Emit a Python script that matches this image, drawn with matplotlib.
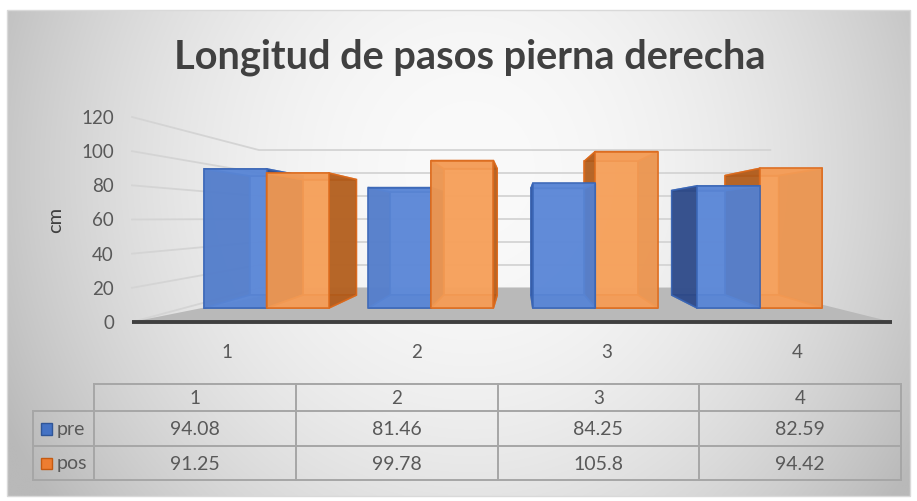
import numpy as np
import matplotlib
matplotlib.use('Agg')
import matplotlib.pyplot as plt
from matplotlib.patches import Polygon, Rectangle

# ---------------- data ----------------
categories = ['1', '2', '3', '4']
series_names = ['pre', 'pos']
pre = [94.08, 81.46, 84.25, 82.59]
pos = [91.25, 99.78, 105.8, 94.42]
yticks = [0, 20, 40, 60, 80, 100, 120]
title = 'Longitud de pasos pierna derecha'
ylabel = 'cm'

# ---------------- style ----------------
W, H = 917, 501
FONT = 'Lato'
TXT = '#595959'
plt.rcParams['font.family'] = [FONT, 'DejaVu Sans']

colors = {
    'pre': dict(front='#5d89d8', side='#2c4580', cap='#4a78c8', edge='#3a66b6', key='#4472c4', keyedge='#2f5597'),
    'pos': dict(front='#f6a15c', side='#aa581a', cap='#e8843e', edge='#dc6a1c', key='#ed7d31', keyedge='#c55a11'),
}

fig = plt.figure(figsize=(W / 100, H / 100), dpi=100)

# ---------------- background (chart area gradient) ----------------
bg = fig.add_axes([0, 0, 1, 1])
bg.set_xlim(0, W)
bg.set_ylim(H, 0)
bg.axis('off')
x0, x1, y0, y1 = 7, 910, 10, 496
xx, yy = np.meshgrid(np.linspace(x0, x1, 400), np.linspace(y0, y1, 250))
dx = (xx - 470) / 460.0
dy = (yy - 170) / 330.0
r2 = np.clip(dx ** 2 + 0.45 * dy ** 2, 0, 1.3)
val = (250 - 50 * r2) / 255.0
img = np.dstack([val, val, val])
bg.imshow(img, extent=(x0, x1, y1, y0), aspect='auto', zorder=0, interpolation='bilinear')
bg.add_patch(Rectangle((x0, y0), x1 - x0, y1 - y0, fill=False, ec='#d9d9d9', lw=1.0, zorder=1))

# ---------------- main 3D-ish plot axes (front plane) ----------------
ax = fig.add_axes([132 / W, 1 - 322 / H, 760 / W, 205 / H])
ax.set_xlim(0, len(categories))
ax.set_ylim(0, 120)
ax.patch.set_visible(False)
for sp in ax.spines.values():
    sp.set_visible(False)
ax.set_yticks(yticks)
ax.set_yticklabels([str(v) for v in yticks], color=TXT, fontsize=13.5)
ax.set_xticks(np.arange(len(categories)) + 0.5)
ax.set_xticklabels(categories, color=TXT, fontsize=13.5)
ax.tick_params(axis='y', length=0, pad=13)
ax.tick_params(axis='x', length=0, pad=16)
ax.set_ylabel(ylabel, color='#404040', fontsize=14.5, labelpad=12)

# perspective toward a vanishing point (in data units of the front plane)
VP = (2.042, 60.9)
S_BACK = 0.673
K = 1 / S_BACK - 1


def proj(u, v, t):
    s = 1.0 / (1.0 + K * t)
    return VP[0] + (u - VP[0]) * s, VP[1] + (v - VP[1]) * s


ncat = len(categories)
GRID = '#d4d4d4'
# side wall + back wall gridlines
for v in yticks:
    p0 = proj(0, v, 0)
    p1 = proj(0, v, 1)
    p2 = proj(ncat, v, 1)
    ax.plot([p0[0], p1[0], p2[0]], [p0[1], p1[1], p2[1]], color=GRID, lw=1.3,
            clip_on=False, zorder=1, solid_joinstyle='miter')

# floor
FL_L, FL_R = 0.34, 3.88
floor = [proj(0, 0, 0), proj(ncat, 0, 0), proj(FL_R, 0, 1), proj(FL_L, 0, 1)]
ax.add_patch(Polygon(floor, closed=True, fc='#b9b9b9', ec='none', zorder=2, clip_on=False))

# bars
BW = 0.38
T0, T1 = 0.321, 0.721
ALPHA = 0.84
bars = []
for i in range(ncat):
    c = i + 0.5
    bars.append(('pre', c - BW, c, pre[i]))
    bars.append(('pos', c, c + BW, pos[i]))
# painter's order: farther from vanishing point first
bars.sort(key=lambda b: -abs((b[1] + b[2]) / 2 - VP[0]))

z = 3
for name, u0, u1, h in bars:
    col = colors[name]
    left_of_vp = (u0 + u1) / 2 < VP[0]

    def face(pts3):
        return [proj(*p) for p in pts3]

    back = face([(u0, 0, T1), (u1, 0, T1), (u1, h, T1), (u0, h, T1)])
    front = face([(u0, 0, T0), (u1, 0, T0), (u1, h, T0), (u0, h, T0)])
    lft = face([(u0, 0, T0), (u0, 0, T1), (u0, h, T1), (u0, h, T0)])
    rgt = face([(u1, 0, T0), (u1, 0, T1), (u1, h, T1), (u1, h, T0)])
    top = face([(u0, h, T0), (u1, h, T0), (u1, h, T1), (u0, h, T1)])
    bot = face([(u0, 0, T0), (u1, 0, T0), (u1, 0, T1), (u0, 0, T1)])
    far_side, near_side = (lft, rgt) if left_of_vp else (rgt, lft)
    order = [(back, col['front']), (far_side, col['side']), (top, col['cap']),
             (bot, col['cap']), (near_side, col['side']), (front, col['front'])]
    for pts, fc in order:
        ax.add_patch(Polygon(pts, closed=True, fc=fc, ec=col['edge'], lw=1.2,
                             alpha=ALPHA, zorder=z, clip_on=False, joinstyle='miter'))
        z += 0.01
    z += 0.1

# front axis line
pa, pb = proj(0, 0, 0), proj(ncat, 0, 0)
ax.plot([pa[0], pb[0]], [pa[1], pb[1]], color='#3f3f3f', lw=2.8, clip_on=False, zorder=50,
        solid_capstyle='butt')

# ---------------- title ----------------
t = fig.text(470 / W, 1 - 57 / H, title, ha='center', va='center', color='#404040',
             fontsize=30, fontweight='bold')
fig.canvas.draw()
bb = t.get_window_extent()
t.set_fontsize(30 * 592.0 / bb.width)

# ---------------- data table ----------------
tb = fig.add_axes([94 / W, 1 - 480 / H, (901 - 94) / W, (480 - 384) / H])
tb.set_xlim(0, ncat)
tb.set_ylim(96, 0)
tb.axis('off')
rows = [0, 27, 62, 96]
LBL = -0.302
LC = '#a6a6a6'
LW = 1.4
tb.plot([0, ncat], [rows[0]] * 2, color=LC, lw=LW, clip_on=False)
for r in rows[1:]:
    tb.plot([LBL, ncat], [r] * 2, color=LC, lw=LW, clip_on=False)
for cx in range(ncat + 1):
    tb.plot([cx, cx], [rows[0], rows[3]], color=LC, lw=LW, clip_on=False)
tb.plot([LBL, LBL], [rows[1], rows[3]], color=LC, lw=LW, clip_on=False)

for i, cat in enumerate(categories):
    tb.text(i + 0.5, (rows[0] + rows[1]) / 2 + 1, cat, ha='center', va='center', color=TXT, fontsize=13.5)
for j, (name, vals) in enumerate(zip(series_names, [pre, pos])):
    yc = (rows[j + 1] + rows[j + 2]) / 2 + 1
    for i, v in enumerate(vals):
        tb.text(i + 0.5, yc, f'{v:g}', ha='center', va='center', color=TXT, fontsize=14)
    tb.add_patch(Rectangle((-0.263, yc - 6.5), 0.055, 11.5, fc=colors[name]['key'],
                           ec=colors[name]['keyedge'], lw=1.0, clip_on=False))
    tb.text(-0.185, yc, name, ha='left', va='center', color=TXT, fontsize=14)

fig.savefig('out.png', dpi=100)
